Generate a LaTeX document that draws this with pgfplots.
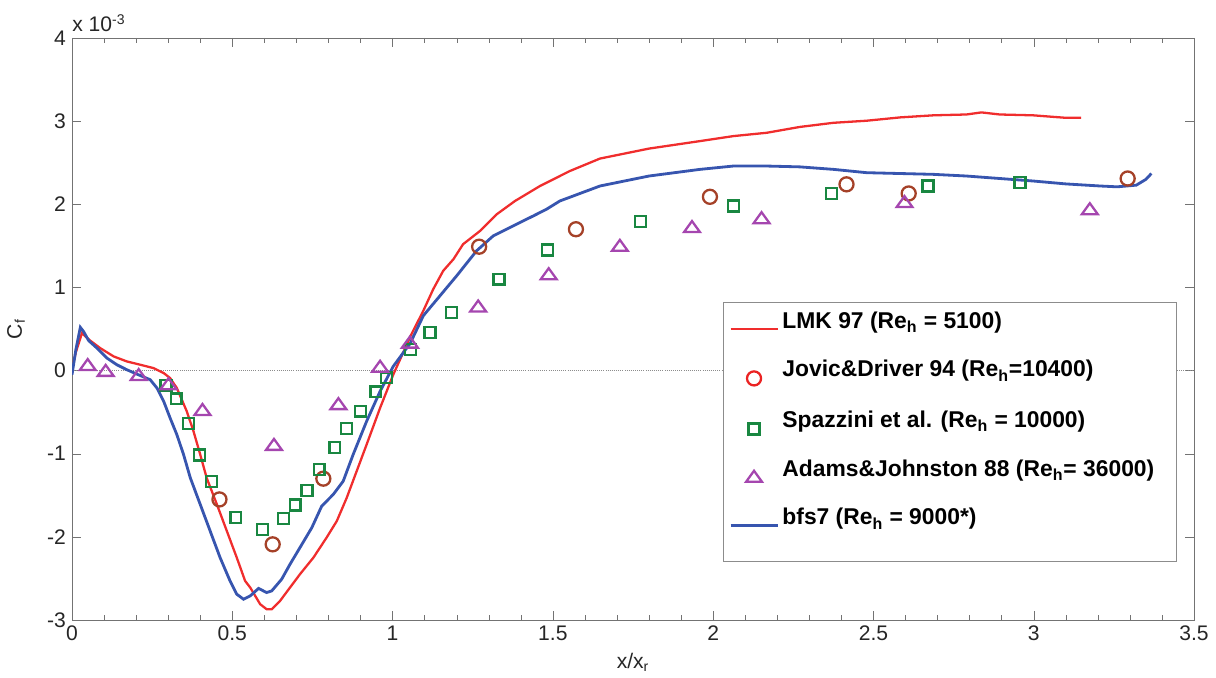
\documentclass[border=0pt]{standalone}
\usepackage{pgfplots}
\pgfplotsset{compat=1.18}
\usepackage{fontspec}
\setmainfont{Liberation Sans}

\definecolor{lmkred}{RGB}{240,45,45}
\definecolor{bfsblue}{RGB}{55,85,175}
\definecolor{jdbrown}{RGB}{165,65,40}
\definecolor{jdred}{RGB}{235,35,35}
\definecolor{spgreen}{RGB}{25,135,65}
\definecolor{ajpurple}{RGB}{165,70,175}

\pgfplotsset{
  lineleg/.style={legend image code/.code={\draw[##1] (0cm,-0.15cm) -- (0.94cm,-0.15cm);}},
  markleg/.style={legend image code/.code={\draw[mark repeat=2,mark phase=2,##1]
      plot coordinates {(0cm,-0.17cm) (0.47cm,-0.17cm) (0.94cm,-0.17cm)};}},
}

% skin-friction data, Cf in units of 1e-3
\pgfplotstableread{
x y
0.005 0.10
0.012 0.22
0.031 0.45
0.045 0.40
0.057 0.36
0.088 0.27
0.130 0.17
0.171 0.11
0.213 0.07
0.254 0.03
0.286 -0.03
0.306 -0.09
0.327 -0.21
0.358 -0.49
0.379 -0.73
0.400 -1.01
0.420 -1.29
0.452 -1.61
0.483 -1.93
0.514 -2.25
0.540 -2.53
0.556 -2.61
0.587 -2.81
0.607 -2.87
0.623 -2.87
0.649 -2.77
0.680 -2.61
0.711 -2.45
0.753 -2.25
0.794 -2.01
0.826 -1.81
0.857 -1.53
0.888 -1.21
0.919 -0.89
0.961 -0.45
1.002 -0.05
1.044 0.31
1.054 0.40
1.096 0.72
1.127 0.98
1.158 1.20
1.190 1.34
1.220 1.52
1.273 1.68
1.325 1.88
1.382 2.04
1.460 2.22
1.553 2.40
1.647 2.55
1.800 2.67
1.959 2.76
2.063 2.82
2.167 2.86
2.270 2.93
2.375 2.98
2.479 3.005
2.583 3.045
2.687 3.07
2.790 3.08
2.837 3.105
2.894 3.08
2.998 3.07
3.100 3.04
3.148 3.04
}\lmk

\pgfplotstableread{
x y
0.000 -0.05
0.012 0.25
0.026 0.52
0.036 0.47
0.052 0.36
0.078 0.27
0.109 0.15
0.140 0.07
0.171 0.01
0.213 -0.06
0.244 -0.11
0.265 -0.21
0.286 -0.37
0.306 -0.57
0.327 -0.77
0.348 -1.01
0.369 -1.29
0.400 -1.61
0.431 -1.93
0.462 -2.25
0.493 -2.53
0.514 -2.69
0.535 -2.75
0.556 -2.71
0.582 -2.62
0.607 -2.67
0.623 -2.65
0.654 -2.51
0.680 -2.33
0.711 -2.13
0.748 -1.89
0.779 -1.63
0.815 -1.49
0.846 -1.33
0.877 -1.01
0.919 -0.61
0.961 -0.25
1.002 0.05
1.044 0.27
1.054 0.32
1.096 0.66
1.148 0.90
1.200 1.14
1.262 1.44
1.314 1.62
1.376 1.74
1.439 1.86
1.480 1.94
1.522 2.04
1.647 2.22
1.800 2.34
1.959 2.42
2.063 2.46
2.167 2.46
2.270 2.45
2.375 2.42
2.479 2.38
2.583 2.37
2.687 2.36
2.790 2.34
2.894 2.31
2.998 2.28
3.100 2.245
3.207 2.22
3.260 2.21
3.320 2.23
3.350 2.30
3.367 2.37
}\bfs

\pgfplotstableread{
x y
0.460 -1.55
0.626 -2.09
0.784 -1.30
1.270 1.49
1.572 1.70
1.990 2.09
2.416 2.24
2.610 2.13
3.293 2.31
}\jovic

\pgfplotstableread{
x y
0.293 -0.18
0.325 -0.34
0.363 -0.636
0.397 -1.016
0.436 -1.336
0.511 -1.768
0.595 -1.908
0.660 -1.78
0.696 -1.616
0.733 -1.44
0.771 -1.188
0.820 -0.928
0.857 -0.70
0.900 -0.488
0.948 -0.256
0.981 -0.088
1.056 0.252
1.117 0.46
1.184 0.70
1.332 1.10
1.484 1.45
1.774 1.79
2.063 1.98
2.370 2.13
2.670 2.22
2.957 2.26
}\spaz

\pgfplotstableread{
x y
0.049 0.05
0.105 -0.02
0.208 -0.07
0.301 -0.18
0.407 -0.49
0.630 -0.91
0.831 -0.42
0.961 0.03
1.054 0.32
1.267 0.755
1.487 1.143
1.709 1.484
1.934 1.71
2.151 1.817
2.597 2.01
3.175 1.925
}\adams

\begin{document}
\begin{tikzpicture}
\begin{axis}[name=ax, scale only axis, width=22.44cm, height=11.64cm,
    xmin=0, xmax=3.5, ymin=-3, ymax=4,
    xtick={0,0.5,1,1.5,2,2.5,3,3.5}, ytick={-3,-2,-1,0,1,2,3,4},
    minor x tick num=4,
    tick align=inside,
    axis line style={black!55}, tick style={black!55},
    major tick length=0.18cm, minor tick length=0.1cm,
    /pgf/number format/assume math mode=true,
    tick label style={font=\fontsize{12}{14}\selectfont, text=black!85},
    xlabel={x/x\textsubscript{r}}, ylabel={C\textsubscript{f}},
    label style={font=\fontsize{12}{14}\selectfont, text=black!85},
    ylabel style={xshift=0cm, yshift=0.2cm},
    legend cell align=left,
    legend style={at={(0.58,0.546)}, anchor=north west, draw=black!45,
      font=\fontsize{13}{15}\selectfont\bfseries, row sep=0.44cm,
      inner xsep=0.12cm, inner ysep=0.12cm},
  ]
\addplot[black!45, very thin, densely dotted, forget plot] coordinates {(0,0) (3.5,0)};
\addplot[lmkred, line width=1.3pt, forget plot] table {\lmk};
\addplot[bfsblue, line width=1.6pt, forget plot] table {\bfs};
\addplot[only marks, mark=o, mark size=4pt, jdbrown, line width=1.3pt, forget plot] table {\jovic};
\addplot[only marks, mark=square, mark size=3.1pt, spgreen, line width=1.3pt, forget plot] table {\spaz};
\addplot[only marks, mark=triangle, mark size=5.2pt, ajpurple, line width=1.3pt,
  mark options={yscale=0.8}, forget plot] table {\adams};

\addlegendimage{lmkred, line width=1.3pt, lineleg}
\addlegendentry{LMK 97 (Re\textsubscript{h} = 5100)}
\addlegendimage{only marks, mark=o, mark size=4pt, jdred, line width=1.3pt, markleg}
\addlegendentry{Jovic\&Driver 94 (Re\textsubscript{h}=10400)}
\addlegendimage{only marks, mark=square, mark size=3.1pt, spgreen, line width=1.3pt, markleg}
\addlegendentry{Spazzini et al. (Re\textsubscript{h} = 10000)}
\addlegendimage{only marks, mark=triangle, mark size=5.2pt, ajpurple, line width=1.3pt, mark options={yscale=0.8}, markleg}
\addlegendentry{Adams\&Johnston 88 (Re\textsubscript{h}= 36000)\hspace*{0.26cm}}
\addlegendimage{bfsblue, line width=1.6pt, lineleg}
\addlegendentry{bfs7 (Re\textsubscript{h} = 9000*)}
\addlegendimage{empty legend}
\addlegendentry[font=\tiny, inner sep=0pt]{}
\end{axis}
\node[anchor=base west, inner sep=0pt, font=\fontsize{12}{14}\selectfont, text=black!85]
  at ([yshift=0.12cm]ax.north west) {x 10\textsuperscript{-3}};
\path ([xshift=-1.44cm,yshift=-0.96cm]ax.south west) rectangle ([xshift=0.44cm,yshift=0.76cm]ax.north east);
\end{tikzpicture}
\end{document}
